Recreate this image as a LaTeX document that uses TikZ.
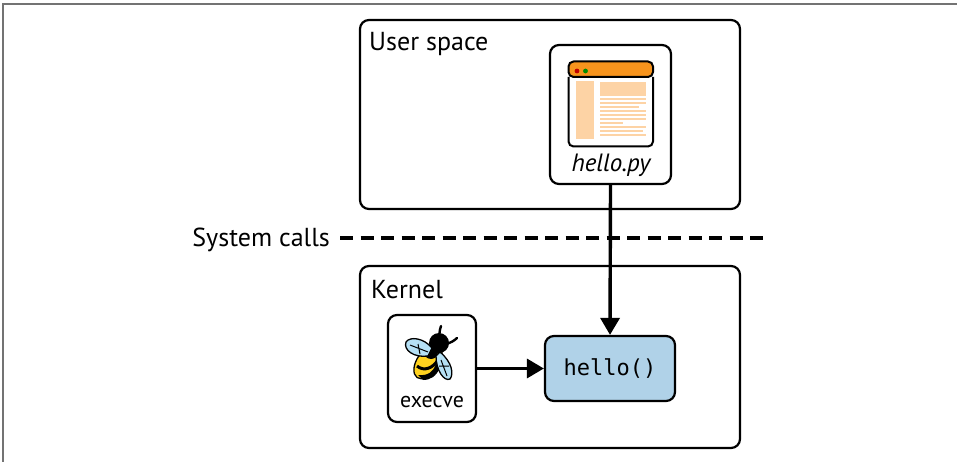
\documentclass[tikz,border=0pt]{standalone}
\usepackage{fontspec}
\setmainfont{PT Sans}
\setmonofont{DejaVu Sans Mono}
\usetikzlibrary{arrows.meta}
\definecolor{hdr}{HTML}{F7941D}
\definecolor{pale}{HTML}{FDD3A5}
\definecolor{fnblue}{HTML}{B0D2E8}
\definecolor{wing}{HTML}{B5E0F5}
\definecolor{beey}{HTML}{FFD21F}
\tikzset{
  box/.style={draw=black,line width=2.2pt,rounded corners=9pt,fill=white,inner sep=0pt},
  lbl/.style={inner sep=0pt,font=\fontsize{26}{28}\selectfont,anchor=base west,text=black},
  conn/.style={line width=3.4pt,-{Triangle[length=17pt,width=19pt]}},
  wingp/.style={fill=wing,draw=black,line width=1.3pt},
  pl/.style={draw=pale,line width=1.1pt}
}
\begin{document}
\begin{tikzpicture}[x=1pt,y=-1pt]
\useasboundingbox (0,0) rectangle (957,462);
\fill[white] (0,0) rectangle (957,462);
\draw[draw=black!55,line width=1.3pt] (3,462) -- (3,4) -- (957,4);
% containers
\node[box,minimum width=380pt,minimum height=189pt] (user) at (550,114.5) {};
\node[box,minimum width=380pt,minimum height=182pt] (kernel) at (550,357) {};
\node[lbl] (userl) at (369,51) {User space};
\node[lbl] (kernl) at (371,298) {Kernel};
% hello.py
\node[box,minimum width=121pt,minimum height=139pt] (py) at (610.5,114.5) {};
\node[inner sep=0pt,font=\fontsize{25}{27}\selectfont\itshape,anchor=base] (pyl) at (611,172) {hello.py};
\begin{scope}
  \draw[pale,line width=0pt,fill=pale] (576,82) rectangle (593,139);
  \fill[pale] (600,82) rectangle (646,96);
  \foreach \yy/\xe in {99/646,103/646,107/639,111/646,115/646,119/646,123/623,127/646,131/643,135/646}
    \draw[pl] (600,\yy) -- (\xe,\yy);
  \draw[fill=hdr,line width=2pt,rounded corners=5pt] (568.5,77) -- (568.5,61.5) -- (653,61.5) -- (653,77) -- cycle;
  \draw[line width=2pt,rounded corners=5pt] (568.5,77) -- (568.5,146.5) -- (653,146.5) -- (653,77);
  \fill[red!75!black] (577,71) circle (2.4pt);
  \fill[green!55!black] (585.5,71) circle (2.4pt);
\end{scope}
% execve
\node[box,minimum width=88pt,minimum height=107pt] (ex) at (432,368.5) {};
\node[inner sep=0pt,font=\fontsize{22}{24}\selectfont,anchor=base] (exl) at (432,407) {execve};
\begin{scope}
  % antennae
  \draw[line width=2.4pt,line cap=round] (438,340) .. controls (440,335) and (439,331) .. (441,326);
  \draw[line width=2.4pt,line cap=round] (446,344) .. controls (450,343) and (454,341) .. (457,338);
  % body
  \draw[fill=beey,line width=1.3pt,rotate around={-35:(428,362)}] (428,362) ellipse (11pt and 19pt);
  \draw[line width=3pt] (417,366) .. controls (424,372) and (433,368) .. (438,360);
  \fill (423,380) .. controls (431,380) and (436,376) .. (440,368) -- (436,364) .. controls (433,372) and (428,376) .. (418,375) -- cycle;
  % head
  \fill (439,343) circle (10pt);
  \fill (431,352) circle (7pt);
  % wings
  \draw[wingp] (432,348) .. controls (424,338) and (410,336) .. (406,342) .. controls (403,350) and (414,358) .. (428,356) -- cycle;
  \draw[black,line width=1pt] (410,345) -- (428,352) (418,344) -- (420,354);
  \draw[wingp] (440,352) .. controls (452,362) and (454,374) .. (450,379) .. controls (444,382) and (436,370) .. (436,356) -- cycle;
  \draw[black,line width=1pt] (441,360) -- (447,376) (439,366) -- (449,366);
\end{scope}
% hello()
\node[box,fill=fnblue,minimum width=130pt,minimum height=65pt,font=\fontsize{22}{24}\ttfamily\selectfont] (fn) at (610,368.5) {hello()};
% system calls
\coordinate (dashs) at (340,238);
\coordinate (dashe) at (765,238);
\node[inner sep=0pt,font=\fontsize{26}{28}\selectfont,anchor=base east] (sys) at (330,247) {System calls};
\draw[line width=3.4pt,dash pattern=on 13pt off 7.5pt] (dashs) -- (dashe);
% connectors
\draw[conn] (py.south) -- (fn.north);
\draw[conn] (ex.east) -- (fn.west);
\end{tikzpicture}
\end{document}
